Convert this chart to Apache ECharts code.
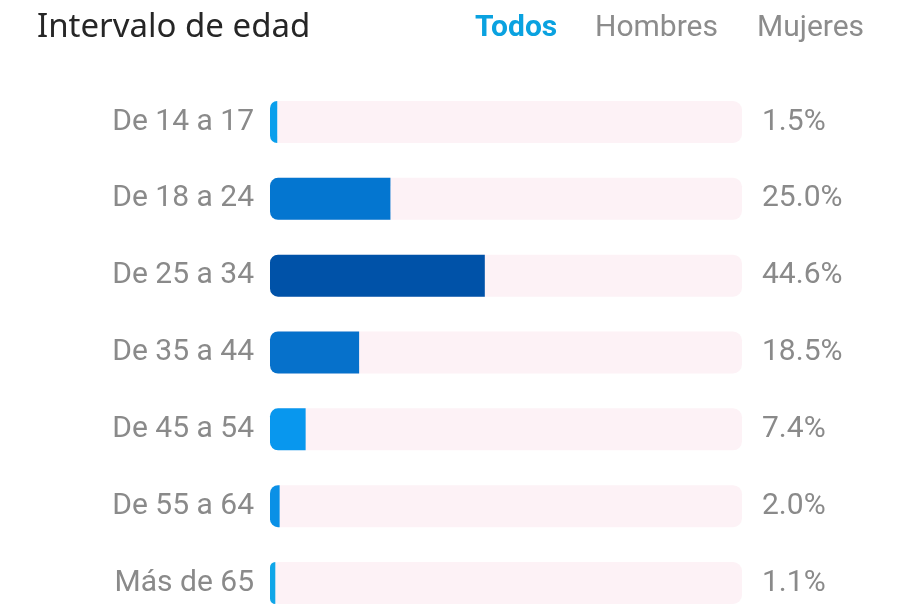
<!DOCTYPE html>
<html>
<head>
<meta charset="utf-8">
<script src="https://cdn.jsdelivr.net/npm/echarts@6/dist/echarts.min.js"></script>
<style>
html,body{margin:0;padding:0;background:#fff;}
#c{width:900px;height:610px;}
</style>
</head>
<body>
<div id="c"></div>
<script>
const categories = ['De 14 a 17','De 18 a 24','De 25 a 34','De 35 a 44','De 45 a 54','De 55 a 64','Más de 65'];
const values = [1.5, 25.0, 44.6, 18.5, 7.4, 2.0, 1.1];
const valueLabels = ['1.5%','25.0%','44.6%','18.5%','7.4%','2.0%','1.1%'];
const tabs = ['Todos','Hombres','Mujeres'];
const titleText = 'Intervalo de edad';

const barColors = ['#0a9fec','#0476d0','#0052a8','#0671cb','#0897ee','#0a90e6','#10a6e8'];
const FONT = 'Roboto';

const chart = echarts.init(document.getElementById('c'), null, {renderer:'canvas'});
const tabX = [475, 595, 757];

chart.setOption({
  animation: false,
  backgroundColor: '#ffffff',
  graphic: [
    {type:'text', left: 37, top: 11, style:{text: titleText, fontFamily: 'Noto Sans', fontSize: 33, fill:'#262626', fontWeight: 'normal'}},
    ...tabs.map((t,i)=>({type:'text', left: tabX[i], top: 13, style:{text: t, fontFamily: FONT, fontSize: 30, fill: i===0 ? '#0aa2e0' : '#8c8c8c', fontWeight: i===0 ? 'bold' : 'normal'}}))
  ],
  grid: {left: 270, width: 472, top: 122, bottom: 27, containLabel: false},
  xAxis: {type:'value', min: 0, max: 98, show: false},
  yAxis: [
    {type:'category', data: categories, inverse: true, boundaryGap: false,
     axisLine:{show:false}, axisTick:{show:false}, splitLine:{show:false},
     axisLabel:{fontFamily: FONT, fontSize: 30, color:'#8a8a8a', margin: 16}},
    {type:'category', data: valueLabels, inverse: true, position: 'right', boundaryGap: false,
     axisLine:{show:false}, axisTick:{show:false}, splitLine:{show:false},
     axisLabel:{fontFamily: FONT, fontSize: 30, color:'#8a8a8a', margin: 20, align:'left'}}
  ],
  series: [{
    type:'bar',
    yAxisIndex: 0,
    barWidth: 42,
    showBackground: true,
    backgroundStyle: {color:'#fdf2f6', borderRadius: 9},
    data: values.map((v,i)=>({value: v, itemStyle:{color: barColors[i]}})),
    itemStyle: {borderRadius: [8,0,0,8]}
  }]
});
</script>
</body>
</html>
